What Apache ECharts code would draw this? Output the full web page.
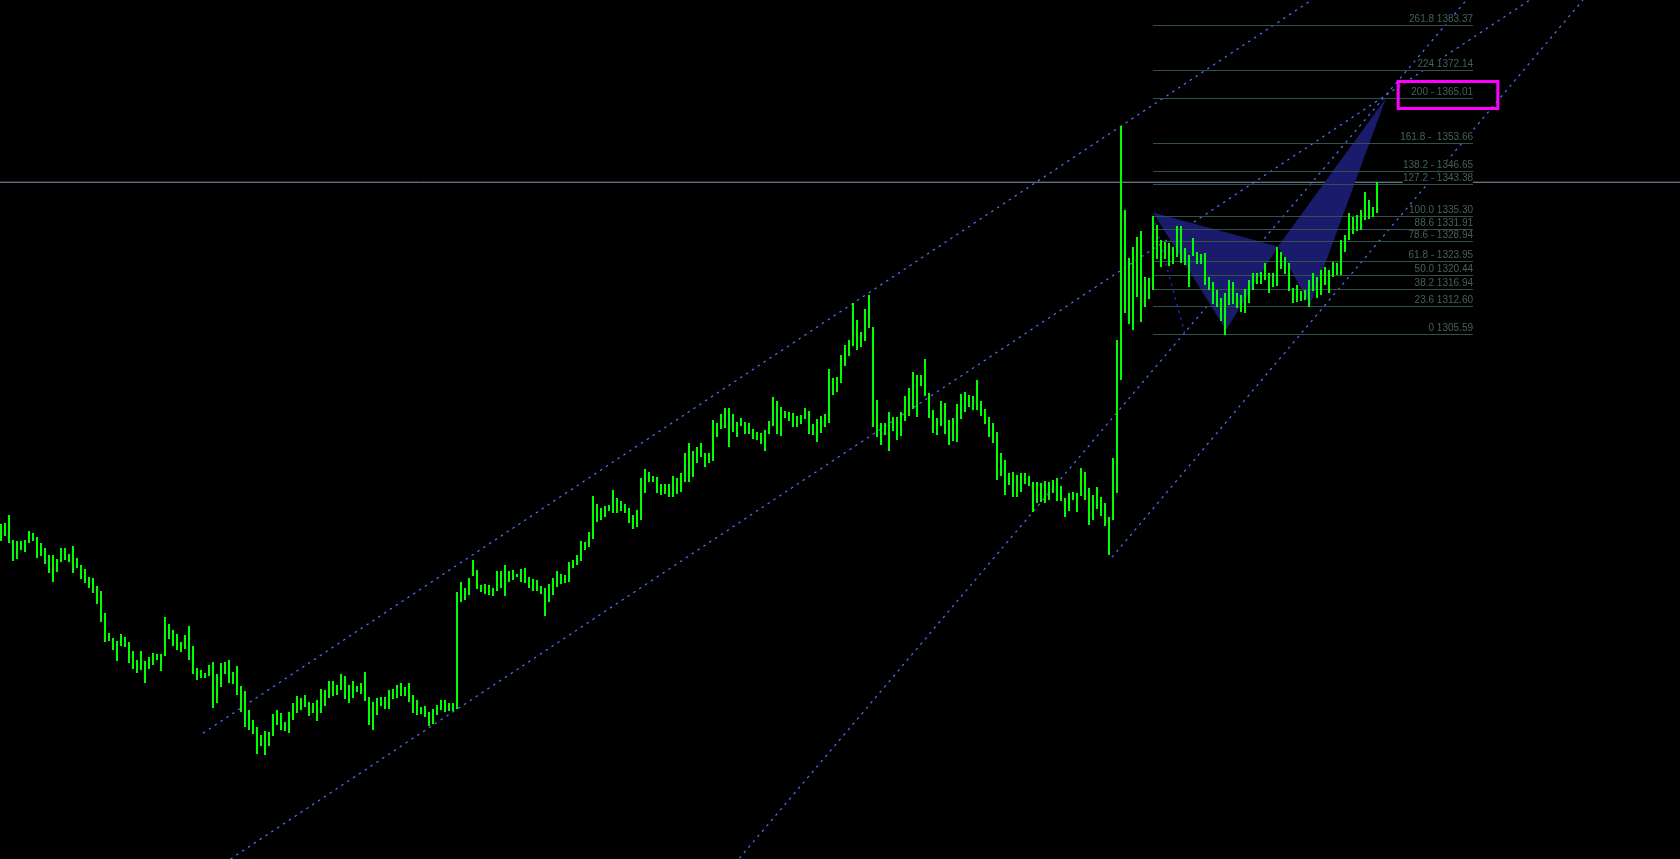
<!DOCTYPE html>
<html>
<head>
<meta charset="utf-8">
<style>
  html, body { margin: 0; padding: 0; background: #000; }
  #chart { width: 1680px; height: 859px; }
</style>
</head>
<body>
<div id="chart"></div>
<script src="https://cdn.jsdelivr.net/npm/echarts@6/dist/echarts.min.js"></script>
<script>
// bar highs, one per index
const highs = [
  1257.7, 1257.9, 1260.0, 1253.7, 1253.4, 1253.4, 1253.7, 1256.0, 1255.4, 1254.5,
  1252.9, 1251.7, 1249.9, 1249.9, 1248.9, 1251.6, 1251.6, 1250.2, 1252.2, 1249.1,
  1247.4, 1246.3, 1244.5, 1244.2, 1242.1, 1240.9, 1235.4, 1230.2, 1229.0, 1228.3,
  1230.0, 1229.2, 1228.1, 1225.7, 1223.5, 1225.8, 1223.3, 1224.2, 1225.3, 1224.9,
  1225.0, 1234.4, 1232.6, 1231.0, 1230.0, 1228.1, 1229.8, 1232.1, 1227.0, 1221.4,
  1221.0, 1220.3, 1222.2, 1223.1, 1220.0, 1222.8, 1223.1, 1223.5, 1220.5, 1222.0,
  1217.0, 1215.7, 1210.9, 1208.4, 1206.7, 1204.6, 1205.7, 1205.3, 1209.9, 1210.9,
  1210.1, 1208.0, 1210.3, 1212.8, 1214.4,
  1213.9, 1214.7, 1213.0, 1212.6, 1213.4, 1216.1, 1215.9, 1218.1, 1218.2, 1217.2,
  1220.0, 1219.5, 1217.2, 1218.1, 1217.0, 1217.8, 1220.6, 1214.3, 1213.0, 1213.9,
  1214.1, 1214.3, 1216.0, 1216.1, 1217.2, 1217.6, 1216.6, 1217.6, 1214.7, 1213.4,
  1211.8, 1211.9, 1210.3, 1211.3, 1212.2, 1213.4, 1213.4, 1212.6, 1212.8,
  1240.7,
  1243.2, 1241.6, 1244.1, 1248.7, 1246.2, 1242.4, 1242.7, 1242.4, 1241.6, 1245.8,
  1246.0, 1247.4, 1245.8, 1246.2, 1245.2, 1246.3, 1246.6, 1244.3, 1243.8, 1243.7,
  1242.2, 1241.6, 1242.7, 1244.1, 1246.0, 1245.2, 1244.9, 1248.1, 1248.7, 1250.0,
  1253.5, 1253.3, 1255.7,
  1264.8, 1262.9,
  1261.7, 1262.3, 1262.5, 1266.3, 1264.2, 1263.6, 1262.8, 1261.7, 1260.0, 1261.3,
  1269.3, 1271.5, 1270.9, 1269.8, 1269.5, 1267.8, 1267.8, 1267.8, 1269.8, 1269.3,
  1270.5, 1275.6, 1278.1, 1276.2, 1277.1, 1278.2, 1275.7, 1275.7, 1283.9, 1283.1,
  1285.5, 1286.9, 1286.9, 1285.5, 1283.5, 1284.4, 1283.5, 1283.3, 1281.6, 1281.0,
  1280.6, 1281.3, 1283.8, 1289.7, 1288.6, 1287.1, 1286.2, 1286.0, 1285.8, 1284.9,
  1285.2, 1286.9, 1286.3, 1282.9, 1284.1,
  1285.0, 1285.5, 1296.7, 1294.4, 1294.7, 1300.3, 1302.8, 1304.1, 1313.3, 1309.1,
  1306.2, 1311.8, 1315.4, 1307.4, 1289.0, 1283.1, 1283.3, 1286.0, 1284.8, 1284.8,
  1286.0, 1290.0, 1291.9, 1295.9, 1295.3, 1295.3, 1299.2, 1290.8, 1286.5, 1284.4,
  1288.6, 1288.3, 1283.9, 1284.4, 1288.0, 1290.5, 1291.1, 1290.2, 1290.0, 1294.0,
  1288.8, 1286.6, 1284.8, 1283.3, 1281.0, 1275.6, 1273.9, 1270.5, 1270.9, 1270.1,
  1270.5, 1270.5, 1269.8, 1268.4, 1268.4, 1268.2, 1268.7, 1268.4, 1268.8, 1269.3,
  1267.3, 1264.2, 1265.6, 1265.9, 1265.6, 1271.8, 1270.9, 1266.7, 1265.1, 1267.0,
  1264.5, 1263.0, 1259.6, 1274.3, 1304.1,
  1358.0,
  1336.8, 1324.6, 1327.6, 1330.1, 1331.5, 1320.0, 1319.6, 1335.3, 1333.0, 1329.3,
  1328.8, 1328.4, 1327.6, 1332.8, 1332.8, 1327.2, 1325.5, 1329.7, 1326.3, 1325.7,
  1325.9, 1320.0, 1318.8, 1316.7, 1314.6, 1316.0, 1319.2, 1318.8, 1316.0, 1315.4,
  1316.8, 1319.2, 1320.9, 1321.0, 1321.3, 1323.4, 1320.9, 1320.9, 1327.6, 1326.3,
  1325.1, 1323.4, 1317.1, 1317.9, 1316.3, 1316.7, 1319.2, 1320.9, 1320.0, 1321.7,
  1322.5, 1321.7, 1323.8, 1323.5, 1329.3, 1330.5, 1336.0, 1335.1, 1335.5, 1336.8,
  1341.4, 1339.3, 1337.6, 1343.9,
]

// bar lows, same order
const lows = [
  1253.3, 1254.7, 1252.9, 1248.5, 1248.9, 1251.2, 1250.8, 1252.9, 1253.3, 1249.3,
  1249.7, 1247.7, 1245.3, 1243.0, 1245.7, 1248.0, 1248.5, 1248.2, 1245.5, 1246.6,
  1244.0, 1242.8, 1241.8, 1240.4, 1237.6, 1233.1, 1228.1, 1228.1, 1226.0, 1223.3,
  1227.0, 1226.6, 1222.7, 1221.1, 1220.3, 1221.0, 1217.8, 1221.1, 1222.2, 1223.5,
  1220.6, 1224.5, 1228.7, 1227.0, 1226.0, 1225.6, 1226.2, 1223.5, 1220.0, 1218.3,
  1219.1, 1219.1, 1219.5, 1211.5, 1212.7, 1216.8, 1220.1, 1217.6, 1217.5, 1214.7,
  1210.5, 1206.7, 1205.9, 1205.0, 1200.0, 1201.8, 1199.6, 1201.9, 1204.4, 1207.1,
  1205.9, 1205.7, 1204.9, 1208.4, 1210.2,
  1210.9, 1211.6, 1209.4, 1210.1, 1208.2, 1210.1, 1211.9, 1213.9, 1214.3, 1214.7,
  1216.0, 1213.6, 1212.6, 1213.9, 1215.5, 1215.1, 1213.4, 1207.2, 1205.9, 1209.7,
  1211.8, 1211.4, 1211.1, 1213.6, 1213.9, 1214.4, 1214.4, 1212.8, 1210.1, 1209.7,
  1210.1, 1209.2, 1206.9, 1207.4, 1209.7, 1210.9, 1210.5, 1210.5, 1210.9,
  1211.2,
  1238.2, 1238.6, 1239.9, 1244.7, 1241.3, 1240.7, 1240.1, 1239.9, 1239.6, 1240.7,
  1241.8, 1239.6, 1243.0, 1243.7, 1244.5, 1243.0, 1242.8, 1241.6, 1240.7, 1241.0,
  1240.1, 1234.6, 1238.2, 1239.9, 1242.0, 1242.8, 1242.8, 1243.0, 1246.6, 1247.4,
  1248.5, 1251.2, 1251.9,
  1254.0, 1258.3,
  1258.6, 1259.6, 1260.9, 1260.4, 1260.4, 1261.1, 1260.6, 1257.8, 1256.6, 1257.1,
  1258.8, 1265.5, 1268.4, 1268.2, 1265.5, 1265.0, 1265.3, 1264.5, 1264.6, 1265.3,
  1265.6, 1268.2, 1268.4, 1269.7, 1273.0, 1274.7, 1272.2, 1273.2, 1273.5, 1279.6,
  1281.8, 1281.8, 1277.2, 1281.0, 1279.7, 1282.3, 1280.6, 1280.6, 1279.1, 1279.1,
  1277.9, 1276.0, 1280.6, 1282.3, 1280.4, 1279.9, 1284.4, 1283.8, 1282.3, 1282.1,
  1282.9, 1284.1, 1280.6, 1280.2, 1278.2,
  1280.6, 1282.3, 1283.1, 1290.0, 1290.8, 1293.2, 1297.5, 1300.1, 1302.4, 1301.6,
  1302.4, 1303.7, 1307.0, 1282.3, 1279.7, 1277.6, 1280.2, 1276.2, 1281.4, 1278.9,
  1279.9, 1283.7, 1284.9, 1286.6, 1284.6, 1292.5, 1289.8, 1284.6, 1280.6, 1280.2,
  1282.4, 1280.4, 1277.6, 1278.5, 1278.5, 1284.1, 1286.0, 1287.3, 1286.5, 1286.5,
  1284.9, 1282.7, 1279.7, 1278.2, 1269.0, 1269.8, 1265.1, 1267.6, 1264.5, 1264.6,
  1265.6, 1267.8, 1267.2, 1260.9, 1263.1, 1263.4, 1263.1, 1263.8, 1265.6, 1263.6,
  1263.6, 1259.4, 1261.1, 1264.0, 1260.9, 1264.8, 1263.8, 1257.3, 1258.8, 1261.5,
  1259.8, 1257.3, 1250.0, 1258.8, 1265.5,
  1294.0,
  1310.8, 1307.9, 1306.6, 1315.0, 1308.7, 1312.5, 1314.2, 1316.7, 1324.4, 1322.5,
  1324.4, 1322.5, 1323.4, 1325.1, 1323.4, 1323.0, 1317.5, 1325.1, 1323.4, 1323.2,
  1317.9, 1316.8, 1313.3, 1312.5, 1308.7, 1305.3, 1312.9, 1313.3, 1312.1, 1311.2,
  1310.8, 1313.3, 1316.7, 1318.3, 1318.3, 1319.2, 1315.8, 1317.5, 1317.9, 1322.1,
  1320.9, 1316.3, 1313.3, 1313.7, 1313.7, 1314.2, 1312.5, 1316.3, 1314.6, 1315.4,
  1317.9, 1315.8, 1320.0, 1320.4, 1320.4, 1326.3, 1329.3, 1330.9, 1331.4, 1331.8,
  1334.3, 1334.5, 1335.1, 1336.0,
]

// fibo levels
const fibLabels = [
  "261.8 1383.37", "224 1372.14", "200 - 1365.01", "161.8 -  1353.66", "138.2 - 1346.65",
  "127.2 - 1343.38", "100.0 1335.30", "88.6 1331.91", "78.6 - 1328.94", "61.8 - 1323.95",
  "50.0 1320.44", "38.2 1316.94", "23.6 1312.60", "0 1305.59",
]
const fibPrices = [
  1383.37, 1372.14, 1365.01, 1353.66, 1346.65, 1343.38, 1335.30, 1331.91, 1328.94, 1323.95,
  1320.44, 1316.94, 1312.60, 1305.59,
]
const fibStart = 288
const fibEnd = 368

// current price line
const priceLine = 1343.8

// harmonic pattern X A B C D
const patternIdx = [288, 306.25, 319.25, 327.25, 346.25]
const patternPrice = [1336.2, 1306.6, 1327.6, 1312.9, 1365.0]

// channel lines [index, price] start / end
const channelA = [[50.5, 1205.1], [327.7, 1389.7]]
const channelB = [[57.35, 1173.4], [382.25, 1389.7]]
const channelC = [[184.6, 1173.6], [366.4, 1389.7]]
const channelD = [[277.75, 1249.4], [395.5, 1389.7]]
const fibTrend = [[288, 1335.3], [296, 1305.59]]

// target box
const targetBox = [349.3, 1369.16, 374.2, 1362.36]

const chart = echarts.init(document.getElementById("chart"))

// dotted trend line
const dotted = (data, color) => ({
  type: "line",
  data: data,
  symbol: "none",
  silent: true,
  z: 1,
  lineStyle: { color: color, width: 1.2, type: [2.5, 4.5] },
})

const option = {
  backgroundColor: "#000000",
  animation: false,
  grid: { left: 0, right: 0, top: 0, bottom: 0 },
  xAxis: { type: "value", min: -0.25, max: 419.75, show: false },
  yAxis: { type: "value", min: 1173.41, max: 1389.68, show: false },
  series: [
    dotted(channelA, "#4f72ff"),
    dotted(channelB, "#4f72ff"),
    dotted(channelC, "#4f72ff"),
    dotted(channelD, "#4f72ff"),
    dotted(fibTrend, "#1f2cf0"),
    {
      type: "line",
      data: [[-1, priceLine], [421, priceLine]],
      symbol: "none",
      silent: true,
      z: 1,
      lineStyle: { color: "#8a9ab0", width: 1 },
    },
    {
      // pattern triangles
      type: "custom",
      silent: true,
      z: 2,
      data: [[patternIdx[0], patternPrice[0]], [patternIdx[2], patternPrice[2]]],
      renderItem: (params, api) => {
        const s = params.dataIndex * 2
        const pts = [s, s + 1, s + 2].map((k) => api.coord([patternIdx[k], patternPrice[k]]))
        return {
          type: "polygon",
          shape: { points: pts },
          style: { fill: "#1b1b6e" },
        }
      },
    },
    {
      // fibo lines and labels
      type: "custom",
      silent: true,
      z: 3,
      data: fibPrices.map((p) => [fibStart, p]),
      renderItem: (params, api) => {
        const a = api.coord([fibStart, api.value(1)])
        const b = api.coord([fibEnd, api.value(1)])
        const y = Math.round(a[1]) + 0.5
        return {
          type: "group",
          children: [
            {
              type: "line",
              shape: { x1: a[0], y1: y, x2: b[0], y2: y },
              style: { stroke: "#34504d", lineWidth: 1 },
            },
            {
              type: "text",
              z2: 5,
              style: {
                text: fibLabels[params.dataIndex],
                x: b[0],
                y: y - 1,
                align: "right",
                verticalAlign: "bottom",
                fill: "#43605b",
                font: '10px "Liberation Sans", Arial, sans-serif',
                backgroundColor: "#000000",
              },
            },
          ],
        }
      },
    },
    {
      // high-low bars
      type: "custom",
      silent: true,
      z: 4,
      data: highs.map((h, i) => [i, h, lows[i]]),
      renderItem: (params, api) => {
        const top = api.coord([api.value(0), api.value(1)])
        const bottom = api.coord([api.value(0), api.value(2)])
        return {
          type: "rect",
          shape: {
            x: Math.round(top[0]) - 1,
            y: Math.round(top[1]),
            width: 2,
            height: Math.max(1, Math.round(bottom[1] - top[1])),
          },
          style: { fill: "#00ff00" },
        }
      },
    },
    {
      // target box
      type: "custom",
      silent: true,
      z: 5,
      data: [targetBox],
      renderItem: (params, api) => {
        const p1 = api.coord([api.value(0), api.value(1)])
        const p2 = api.coord([api.value(2), api.value(3)])
        return {
          type: "rect",
          shape: { x: p1[0], y: p1[1], width: p2[0] - p1[0], height: p2[1] - p1[1] },
          style: { fill: "none", stroke: "#ff00ff", lineWidth: 3 },
        }
      },
    },
  ],
}

chart.setOption(option)
</script>
</body>
</html>
